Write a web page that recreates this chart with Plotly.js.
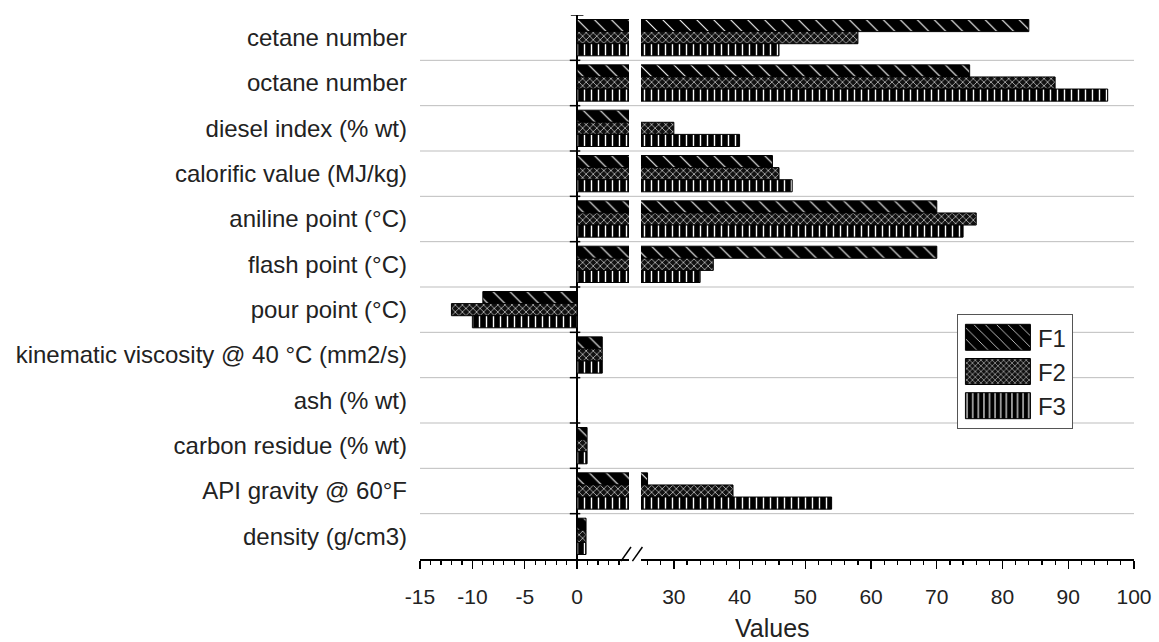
<!DOCTYPE html>
<html>
<head>
<meta charset="utf-8">
<script src="https://cdn.plot.ly/plotly-3.0.1.min.js"></script>
<style>
  html, body { margin: 0; padding: 0; background: #fff; }
  #chart { width: 1159px; height: 642px; }
</style>
</head>
<body>
<div id="chart"></div>
<script>
// ---- data ----
const categories = [
  'cetane number',
  'octane number',
  'diesel index (% wt)',
  'calorific value (MJ/kg)',
  'aniline point (°C)',
  'flash point (°C)',
  'pour point (°C)',
  'kinematic viscosity @ 40 °C (mm2/s)',
  'ash (% wt)',
  'carbon residue (% wt)',
  'API gravity @ 60°F',
  'density (g/cm3)'
];
const seriesNames = ['F1', 'F2', 'F3'];
const f1 = [84, 75, 20, 45, 70, 70, -9, 2.4, 0.02, 0.95, 26, 0.85];
const f2 = [58, 88, 30, 46, 76, 36, -12, 2.4, 0.02, 0.95, 39, 0.85];
const f3 = [46, 96, 40, 48, 74, 34, -10, 2.4, 0.02, 0.95, 54, 0.85];
const leftTicks = [-15, -10, -5, 0];
const leftTickLabels = ['-15', '-10', '-5', '0'];
const rightTicks = [30, 40, 50, 60, 70, 80, 90, 100];
const rightTickLabels = ['30', '40', '50', '60', '70', '80', '90', '100'];

// ---- styles ----
const FONT = 'Liberation Sans, Arial, sans-serif';
const patterns = [
  {shape: '\\', bgcolor: '#000', fgcolor: '#fff', size: 12, solidity: 0.09, fillmode: 'replace'},
  {shape: 'x', bgcolor: '#111', fgcolor: '#ddd', size: 5, solidity: 0.25, fillmode: 'replace'},
  {shape: '|', bgcolor: '#000', fgcolor: '#fff', size: 7, solidity: 0.2, fillmode: 'replace'}
];
const values = [f1, f2, f3];

const data = [];
values.forEach((vals, i) => {
  ['x', 'x2'].forEach((xa, k) => {
    data.push({
      type: 'bar',
      orientation: 'h',
      name: seriesNames[i],
      legendgroup: seriesNames[i],
      showlegend: k === 0,
      x: vals,
      y: categories,
      xaxis: xa,
      yaxis: 'y',
      marker: {
        color: '#000',
        pattern: patterns[i],
        line: {color: '#000', width: 1}
      },
      hoverinfo: 'skip'
    });
  });
});

// gridlines between categories and small ticks on the zero line
const shapes = [];
for (let i = 0; i < categories.length - 1; i++) {
  shapes.push({type: 'line', xref: 'paper', x0: 0, x1: 1, yref: 'y', y0: i + 0.5, y1: i + 0.5,
    line: {color: '#bdbdbd', width: 1}, layer: 'below'});
  shapes.push({type: 'line', xref: 'x', x0: -0.7, x1: 0.3, yref: 'y', y0: i + 0.5, y1: i + 0.5,
    line: {color: '#000', width: 1.5}, layer: 'above'});
}
shapes.push({type: 'line', xref: 'x', x0: -0.6, x1: 0.6, yref: 'y', y0: -0.5, y1: -0.5,
  line: {color: '#000', width: 1.5}, layer: 'above'});
// axis break marks "//"
shapes.push({type: 'line', xref: 'paper', yref: 'paper', x0: 0.2815, y0: -0.004, x1: 0.2955, y1: 0.022,
  line: {color: '#000', width: 1.5}});
shapes.push({type: 'line', xref: 'paper', yref: 'paper', x0: 0.2975, y0: -0.004, x1: 0.3115, y1: 0.022,
  line: {color: '#000', width: 1.5}});

const xBase = {
  showline: true, linecolor: '#000', linewidth: 1.5,
  ticks: 'outside', ticklen: 8, tickwidth: 1.3, tickcolor: '#000',
  showgrid: false, zeroline: false,
  tickfont: {family: FONT, size: 21, color: '#222'},
  ticklabelstandoff: 10,
  anchor: 'y',
  fixedrange: true
};

const layout = {
  width: 1159, height: 642,
  paper_bgcolor: '#fff', plot_bgcolor: 'rgba(0,0,0,0)',
  margin: {l: 420, r: 25, t: 15, b: 83},
  barmode: 'group', bargap: 0.2, bargroupgap: 0,
  font: {family: FONT, color: '#222'},
  xaxis: Object.assign({}, xBase, {
    domain: [0, 0.2927], range: [-15, 4.95],
    tickmode: 'array', tickvals: leftTicks, ticktext: leftTickLabels,
    minor: {ticks: 'outside', dtick: 1, tick0: 0, ticklen: 4, tickcolor: '#000', tickwidth: 1.2, showgrid: false},
    zeroline: true, zerolinecolor: '#000', zerolinewidth: 1.5
  }),
  xaxis2: Object.assign({}, xBase, {
    domain: [0.3095, 1], range: [25, 100],
    tickmode: 'array', tickvals: rightTicks, ticktext: rightTickLabels,
    minor: {ticks: 'outside', dtick: 2, tick0: 0, ticklen: 4, tickcolor: '#000', tickwidth: 1.2, showgrid: false}
  }),
  yaxis: {
    type: 'category', categoryorder: 'array', categoryarray: categories,
    range: [categories.length - 0.5, -0.5],
    showgrid: false, showline: false, zeroline: false,
    ticks: '', ticklabelstandoff: 12,
    tickfont: {family: FONT, size: 24, color: '#222'},
    fixedrange: true
  },
  shapes: shapes,
  annotations: [{
    text: 'Values', xref: 'paper', yref: 'paper', x: 0.494, y: -0.127,
    xanchor: 'center', yanchor: 'middle', showarrow: false,
    font: {family: FONT, size: 25, color: '#222'}
  }],
  showlegend: true,
  legend: {
    x: 0.752, y: 0.45, xanchor: 'left', yanchor: 'top',
    bgcolor: '#fff', bordercolor: '#555', borderwidth: 1,
    font: {family: FONT, size: 24, color: '#222'},
    itemwidth: 70, traceorder: 'normal'
  }
};

Plotly.newPlot('chart', data, layout, {staticPlot: true, displayModeBar: false}).then(gd => {
  gd.querySelectorAll('.legend .legendpoints path').forEach(p => {
    p.setAttribute('d', 'M32.5,13H-32.5V-13H32.5Z');
  });
});
</script>
</body>
</html>
